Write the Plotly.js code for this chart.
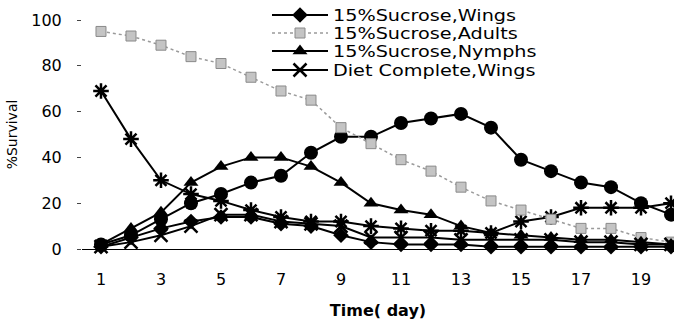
<!DOCTYPE html>
<html>
<head>
<meta charset="utf-8">
<script src="https://cdn.plot.ly/plotly-3.0.1.min.js"></script>
<style>
html,body{margin:0;padding:0;background:#fff;}
#chart{width:674px;height:329px;}
</style>
</head>
<body>
<div id="chart"></div>
<script>
// ---- data ----
var days = [1,2,3,4,5,6,7,8,9,10,11,12,13,14,15,16,17,18,19,20];
var xTickVals = [1,3,5,7,9,11,13,15,17,19];
var seriesNames = ["15%Sucrose,Wings","15%Sucrose,Adults","15%Sucrose,Nymphs","Diet Complete,Wings","Diet Complete,Adults","Diet Complete,Nymphs"];
var sucroseWings  = [1,5,9,12,14,14,11,10,6,3,2,2,2,1,1,1,1,1,1,1];
var sucroseAdults = [95,93,89,84,81,75,69,65,53,46,39,34,27,21,17,13,9,9,5,3];
var sucroseNymphs = [2,9,16,29,36,40,40,36,29,20,17,15,10,7,6,5,4,4,3,2];
var dietWings     = [1,3,6,10,15,15,12,11,10,5,5,5,4,4,4,4,3,3,2,2];
var dietAdults    = [69,48,30,24,21,17,14,12,12,10,9,8,8,7,12,14,18,18,18,20];
var dietNymphs    = [2,6,13,20,24,29,32,42,49,49,55,57,59,53,39,34,29,27,20,15];
var xTitle = "Time( day)";
var yTitle = "%Survival";

var FONT = "DejaVu Sans, Arial, sans-serif";

function tr(name, y, line, marker, showlegend){
  return {x: days, y: y, name: name, type: "scatter", mode: "lines+markers",
          line: line, marker: marker, cliponaxis: false, showlegend: showlegend};
}

var traces = [
  tr(seriesNames[5], dietNymphs, {color:"#000", width:2}, {symbol:"circle", size:14, color:"#000"}, false),
  tr(seriesNames[4], dietAdults, {color:"#000", width:2}, {symbol:"asterisk-open", size:13, color:"#000", line:{color:"#000", width:2.5}}, false),
  tr(seriesNames[1], sucroseAdults, {color:"#9a9a9a", width:1.5, dash:"dot"}, {symbol:"square", size:10, color:"#c4c4c4", line:{color:"#8a8a8a", width:1}}, true),
  tr(seriesNames[2], sucroseNymphs, {color:"#000", width:2}, {symbol:"triangle-up", size:13, color:"#000"}, true),
  tr(seriesNames[3], dietWings, {color:"#000", width:2}, {symbol:"x-thin-open", size:13, color:"#000", line:{color:"#000", width:2.5}}, true),
  tr(seriesNames[0], sucroseWings, {color:"#000", width:2}, {symbol:"diamond", size:12, color:"#000"}, true)
];

// legend order: Wings, Adults, Nymphs, Diet Complete Wings
traces[5].legendrank = 1;
traces[2].legendrank = 2;
traces[3].legendrank = 3;
traces[4].legendrank = 4;

var layout = {
  width: 674, height: 329,
  margin: {l: 82, r: 0, t: 20, b: 80},
  paper_bgcolor: "#fff", plot_bgcolor: "#fff",
  font: {family: FONT, color: "#000", size: 16},
  showlegend: true,
  legend: {
    x: 0.325, xanchor: "left", y: 1.075, yanchor: "top",
    bgcolor: "rgba(255,255,255,0)", borderwidth: 0,
    font: {family: FONT, size: 16, color: "#000"},
    traceorder: "normal",
    itemwidth: 30
  },
  xaxis: {
    range: [0.367, 20.1],
    tickvals: xTickVals, ticktext: xTickVals.map(String),
    ticks: "", showgrid: false, zeroline: false,
    showline: true, linecolor: "#000", linewidth: 1,
    ticklabelstandoff: 16,
    tickfont: {family: FONT, size: 16, color: "#000"},
    title: {text: xTitle, font: {family: FONT, size: 16, color: "#000", weight: "bold"}, standoff: 16}
  },
  yaxis: {
    range: [0, 100],
    tickvals: [0,20,40,60,80,100],
    ticks: "outside", ticklen: 4, tickcolor: "#444", tickwidth: 1,
    showgrid: false, zeroline: false, showline: false,
    ticklabelstandoff: 12,
    tickfont: {family: FONT, size: 16, color: "#000"},
    title: {text: yTitle, font: {family: FONT, size: 14, color: "#000"}, standoff: 10}
  }
};

Plotly.newPlot("chart", traces, layout, {staticPlot: true, displayModeBar: false}).then(function(gd){
  // compact the legend like the original (tight rows, long samples, wide lettering)
  var leg = gd.querySelector(".legend");
  if (!leg) return;
  leg.setAttribute("transform", "translate(272,0)");
  var sb = leg.querySelector(".scrollbox");
  if (sb) sb.removeAttribute("clip-path");
  var items = leg.querySelectorAll(".traces");
  var rowY = [15, 33, 51, 70];
  items.forEach(function(g, i){
    g.setAttribute("transform", "translate(0," + rowY[i] + ")");
    g.querySelectorAll(".legendlines path").forEach(function(p){ p.setAttribute("d", "M0,0h56"); });
    g.querySelectorAll(".legendpoints path").forEach(function(p){ p.setAttribute("transform", "translate(28,0)"); });
    var t = g.querySelector("text.legendtext");
    if (t) {
      t.setAttribute("x", "61");
      var w = t.getComputedTextLength();
      t.setAttribute("textLength", (w * 1.2).toFixed(1));
      t.setAttribute("lengthAdjust", "spacingAndGlyphs");
    }
  });
});
</script>
</body>
</html>
